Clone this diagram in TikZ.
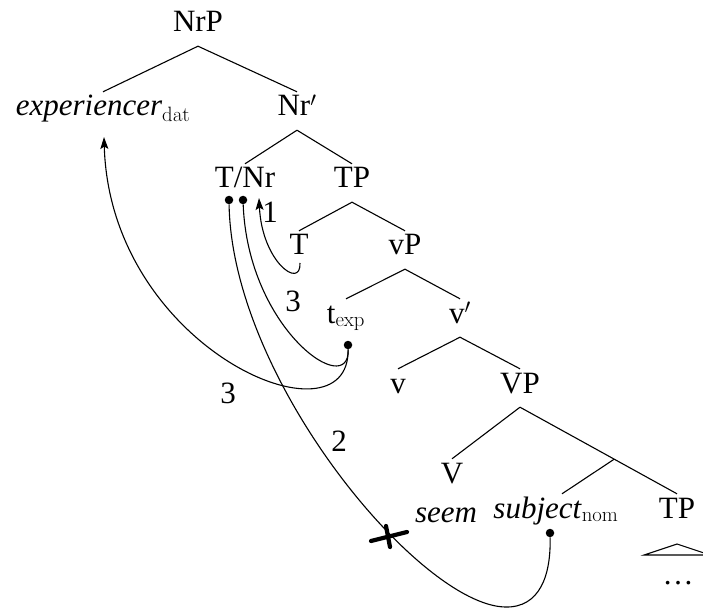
\documentclass[tikz,border=0pt]{standalone}
\usepackage[no-math]{fontspec}
\setmainfont{Liberation Serif}
\usetikzlibrary{calc,arrows.meta}
\begin{document}
\begin{tikzpicture}[x=1pt,y=-1pt,
  every node/.append style={font=\fontsize{31}{37}\selectfont},
  tn/.style={inner sep=0pt,text height=24pt,text depth=14pt,anchor=base},
  lab/.style={inner sep=0pt},
  br/.style={line width=1.1pt},
  mv/.style={line width=1.1pt},
  tip/.style={-{Stealth[length=12pt,width=8pt,inset=2.5pt]}},
  dotn/.style={circle,fill,inner sep=0pt,minimum size=8.5pt},
  cross/.style={line width=4.2pt,line cap=round}]
\useasboundingbox (0,0) rectangle (703,609);
% tree nodes
\node[tn] (nrp) at (198,32) {NrP};
\node[tn] (exper) at (103,116) {\textit{experiencer}$_{\mathrm{dat}}$};
\node[tn] (nrbar) at (297,116) {Nr$'$};
\node[tn] (tnr) at (245,188) {T/Nr};
\node[tn] (tp) at (352,188) {TP};
\node[tn] (t) at (299,255) {T};
\node[tn] (vp) at (405,255) {vP};
\node[tn] (texp) at (346,323) {t$_{\mathrm{exp}}$};
\node[tn] (vbar) at (460,323) {v$'$};
\node[tn] (v) at (398,393) {v};
\node[tn] (bigvp) at (520,393) {VP};
\node[tn] (bigv) at (452,483) {V};
\node[tn] (seem) at (446,522) {\textit{seem}};
\node[tn] (subj) at (556,518) {\textit{subject}$_{\mathrm{nom}}$};
\node[tn] (tp2) at (677,518) {TP};
\node[tn] (dots) at (678,584) {\dots};
% tree branches
\draw[br] (nrp.south) -- (exper.north);
\draw[br] (nrp.south) -- (nrbar.north);
\draw[br] (nrbar.south) -- (tnr.north);
\draw[br] (nrbar.south) -- (tp.north);
\draw[br] (tp.south) -- (t.north);
\draw[br] (tp.south) -- (vp.north);
\draw[br] (vp.south) -- (texp.north);
\draw[br] (vp.south) -- (vbar.north);
\draw[br] (vbar.south) -- (v.north);
\draw[br] (vbar.south) -- (bigvp.north);
\draw[br] (bigvp.south) -- (bigv.north);
\draw[br] (bigvp.south) -- (tp2.north);
\coordinate (brp) at ($(bigvp.south)!0.6!(tp2.north)$);
\draw[br] (brp) -- ($(subj.north)+(6,0)$);
\draw[br] ($(tp2.base)+(0,26)$) -- ++(-33,11) -- ++(66,0) -- cycle;
% movement
\node[dotn] (d1) at (229,200) {};
\node[dotn] (d2) at (243,200) {};
\node[dotn] (d3) at (348,345) {};
\node[dotn] (d4) at (550,533) {};
\coordinate (a1) at ($(tnr.base)+(14,10)$);
\coordinate (tb) at ($(t.base)+(1,8)$);
\coordinate (exa) at ($(exper.base)+(1,21)$);
\coordinate (low) at (505,607);
\draw[mv,tip] (tb) .. controls (301,290) and (262,262) .. (a1);
\draw[mv] (d3) .. controls (350,400) and (248,330) .. (d2);
\draw[mv,tip] (d3) .. controls (350,450) and (110,350) .. (exa);
\draw[mv] (d4) .. controls (551,575) and (540,608) .. (low)
  .. controls (420,605) and (232,380) .. (d1);
\draw[cross] (371,541) -- (407,532);
\draw[cross] (386,526) -- (390,547);
% labels
\node[lab] (l1) at (270,212) {1};
\node[lab] (l3a) at (293,301) {3};
\node[lab] (l3b) at (228,393) {3};
\node[lab] (l2) at (339,441) {2};
\end{tikzpicture}
\end{document}
